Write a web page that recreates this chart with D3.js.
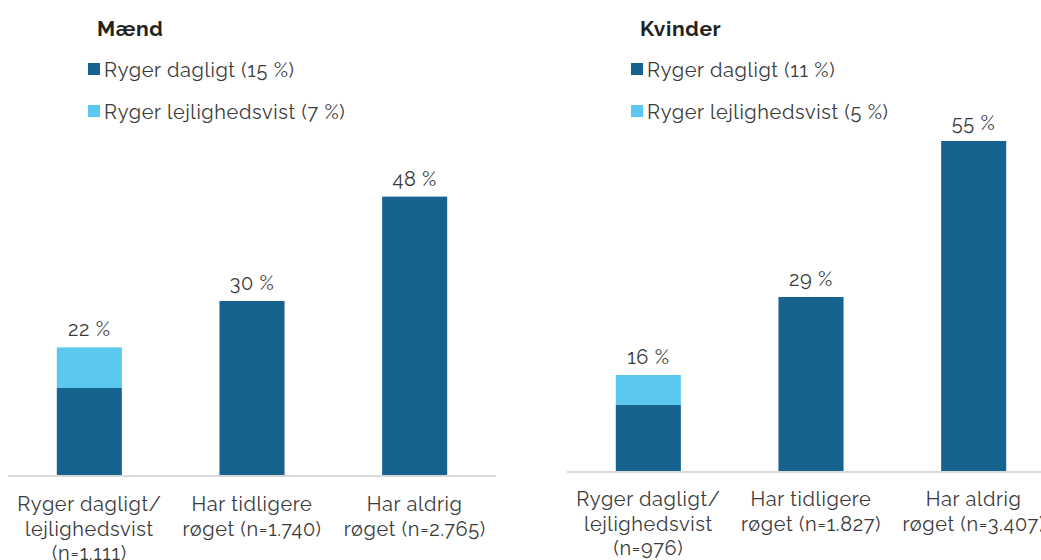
<!DOCTYPE html>
<html>
<head>
<meta charset="utf-8">
<script src="https://cdn.jsdelivr.net/npm/d3@7"></script>
<style>
  body { margin: 0; background: #fff; }
  text { font-family: Raleway, Lato, "Open Sans", sans-serif; fill: #3a3a3a; letter-spacing: 0.6px; }
</style>
</head>
<body>
<div id="chart"></div>
<script>
var categories = ["Ryger dagligt/|lejlighedsvist|(n=1.111)", "Har tidligere|røget (n=1.740)", "Har aldrig|røget (n=2.765)"];
var categoriesK = ["Ryger dagligt/|lejlighedsvist|(n=976)", "Har tidligere|røget (n=1.827)", "Har aldrig|røget (n=3.407)"];
var series = ["Ryger dagligt", "Ryger lejlighedsvist"];

// Mænd
var maendDaily = [15, 30, 48];
var maendOcc = [7, 0, 0];
var maendTotal = [22, 30, 48];
// Kvinder
var kvinderDaily = [11, 29, 55];
var kvinderOcc = [5, 0, 0];
var kvinderTotal = [16, 29, 55];

var colors = ["#17638f", "#5bc8f0"];

var svg = d3.select("#chart").append("svg")
    .attr("width", 1041)
    .attr("height", 560);

function panel(opts) {
    var g = svg.append("g");

    var x = d3.scaleBand()
        .domain(opts.cats)
        .range([opts.x0, opts.x1])
        .paddingInner(0.6)
        .paddingOuter(0.3);

    var y = d3.scaleLinear()
        .domain([0, 60])
        .range([opts.base, opts.base - 60 * opts.pxPer]);

    var rows = opts.cats.map(function(c, i) {
        return {cat: c, "Ryger dagligt": opts.daily[i], "Ryger lejlighedsvist": opts.occ[i], total: opts.total[i]};
    });

    var stacked = d3.stack().keys(series)(rows);

    g.selectAll("g.layer")
        .data(stacked)
        .enter().append("g")
        .attr("fill", function(d, i) { return colors[i]; })
        .selectAll("rect")
        .data(function(d) { return d; })
        .enter().append("rect")
        .attr("x", function(d) { return x(d.data.cat); })
        .attr("y", function(d) { return y(d[1]); })
        .attr("height", function(d) { return y(d[0]) - y(d[1]); })
        .attr("width", x.bandwidth());

    // baseline
    g.append("line")
        .attr("x1", opts.x0).attr("x2", opts.lineEnd)
        .attr("y1", opts.base + 1).attr("y2", opts.base + 1)
        .attr("stroke", "#d9d9d9")
        .attr("stroke-width", 2);

    // value labels
    g.selectAll("text.val")
        .data(rows)
        .enter().append("text")
        .attr("x", function(d) { return x(d.cat) + x.bandwidth() / 2; })
        .attr("y", function(d) { return y(d.total) - 11; })
        .attr("text-anchor", "middle")
        .style("font-size", "20px")
        .text(function(d) { return d.total + " %"; });

    // category labels
    var lab = g.selectAll("text.cat")
        .data(opts.cats)
        .enter().append("text")
        .attr("text-anchor", "middle")
        .attr("x", function(d) { return x(d) + x.bandwidth() / 2; })
        .attr("y", opts.base + opts.labOff)
        .style("font-size", "20px");
    lab.selectAll("tspan")
        .data(function(d) { return d.split("|"); })
        .enter().append("tspan")
        .attr("x", function() { return d3.select(this.parentNode).attr("x"); })
        .attr("dy", function(d, i) { return i === 0 ? 0 : 24.5; })
        .text(function(d) { return d; });

    // title
    g.append("text")
        .attr("x", opts.titleX)
        .attr("y", 36)
        .style("font-size", "21px")
        .style("font-weight", "bold")
        .style("fill", "#222")
        .text(opts.title);

    // legend
    series.forEach(function(s, i) {
        g.append("rect")
            .attr("x", opts.titleX - 9)
            .attr("y", 63 + 42 * i)
            .attr("width", 12)
            .attr("height", 12)
            .attr("fill", colors[i]);
        g.append("text")
            .attr("x", opts.titleX + 7)
            .attr("y", 77 + 42 * i)
            .style("font-size", "20px")
            .text(s + " (" + opts.legendVals[i] + " %)");
    });
}

panel({cats: categories, daily: maendDaily, occ: maendOcc, total: maendTotal,
       x0: 8, x1: 496, lineEnd: 496, base: 475, pxPer: 5.8, labOff: 36,
       title: "Mænd", titleX: 97, legendVals: [15, 7]});

panel({cats: categoriesK, daily: kvinderDaily, occ: kvinderOcc, total: kvinderTotal,
       x0: 567, x1: 1055, lineEnd: 1055, base: 471, pxPer: 6.0, labOff: 35,
       title: "Kvinder", titleX: 640, legendVals: [11, 5]});
</script>
</body>
</html>
